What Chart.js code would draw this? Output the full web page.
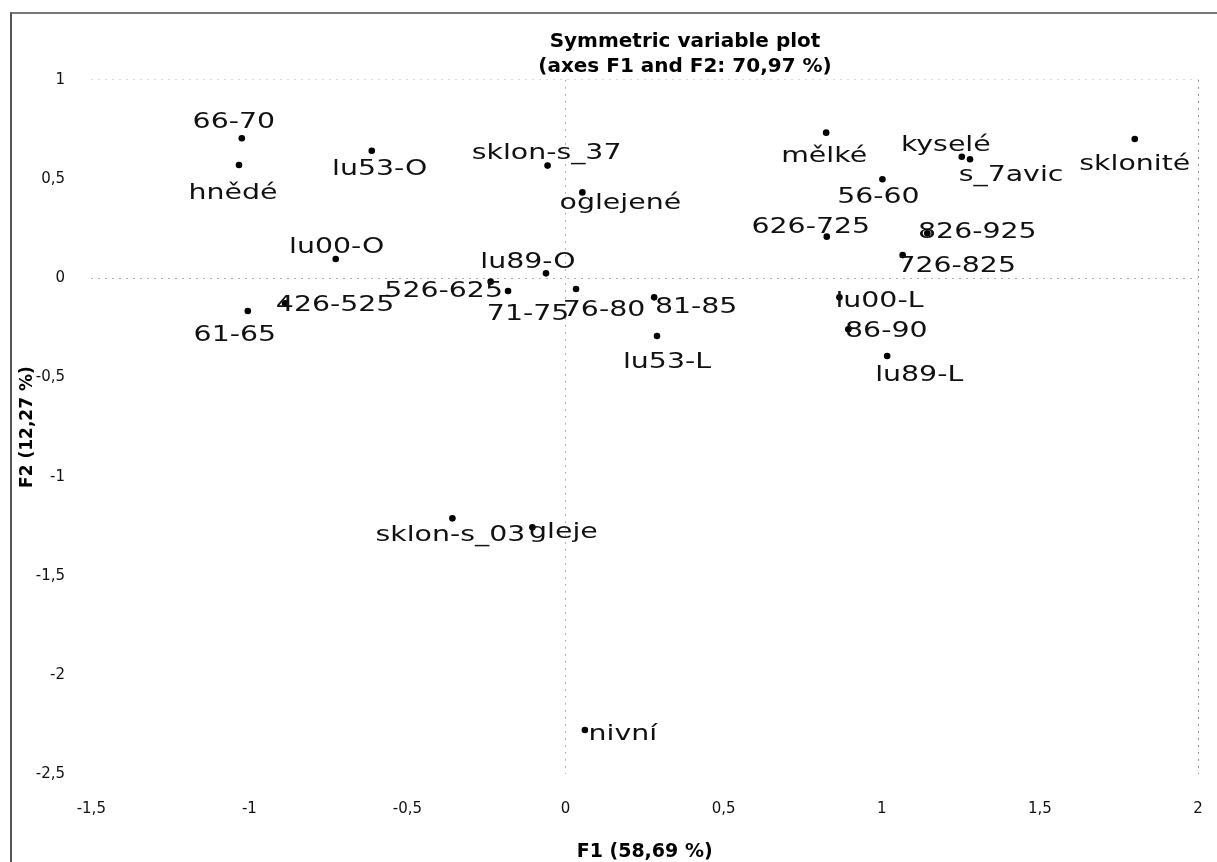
<!DOCTYPE html>
<html>
<head>
<meta charset="utf-8">
<script src="https://cdn.jsdelivr.net/npm/chart.js@4.4.1/dist/chart.umd.min.js"></script>
<style>
  html, body { margin: 0; padding: 0; background: #fff; overflow: hidden; width: 1217px; height: 862px; }
  #frame { position: absolute; left: 10px; top: 12px; width: 1400px; height: 1000px;
           border-left: 2px solid #555; border-top: 2px solid #777; }
  #wrap { position: absolute; left: 0; top: 0; width: 1370px; height: 862px; }
</style>
</head>
<body>
<div id="frame"></div>
<div id="wrap"><canvas id="plot"></canvas></div>
<script>
// Variables and their coordinates on the first two factors
const variables = [
  '66-70', 'hnědé', 'lu53-O', 'lu00-O', '426-525', '61-65', '526-625', '71-75',
  'lu89-O', 'sklon-s_37', 'oglejené', '76-80', '81-85', 'lu53-L', 'mělké', 'kyselé',
  's_7avic', 'sklonité', '56-60', '626-725', '826-925', '726-825', 'lu00-L', '86-90',
  'lu89-L', 'sklon-s_03', 'gleje', 'nivní'
];
const f1 = [
  -1.024, -1.033, -0.613, -0.727, -0.887, -1.005, -0.237, -0.182,
  -0.062, -0.057, 0.053, 0.033, 0.280, 0.289, 0.824, 1.253,
  1.279, 1.800, 1.002, 0.826, 1.144, 1.066, 0.866, 0.894,
  1.017, -0.358, -0.105, 0.061
];
const f2 = [
  0.706, 0.571, 0.643, 0.097, -0.126, -0.165, -0.017, -0.064,
  0.025, 0.568, 0.433, -0.054, -0.096, -0.291, 0.734, 0.613,
  0.600, 0.702, 0.499, 0.210, 0.227, 0.117, -0.096, -0.257,
  -0.392, -1.210, -1.255, -2.277
];
const xTicks = [-1.5, -1, -0.5, 0, 0.5, 1, 1.5, 2];
const yTicks = [-2.5, -2, -1.5, -1, -0.5, 0, 0.5, 1];

// Where each name sits relative to its point (px)
const labelDx = [
  -8, -6, 8, 1, 50, -13, -47, 20,
  -18, -1, 38, 28, 42, 10, -2, -16,
  41, 0, -4, -16, 50, 54, 40, 38,
  32, -2, 31, 38
];
const labelDy = [
  -16, 28, 19, -12, 2, 24, 10, 23,
  -11, -12, 11, 21, 10, 26, 24, -11,
  16, 25, 18, -9, -1, 11, 4, 2,
  19, 17, 5, 4
];

const points = f1.map((x, i) => ({ x: x, y: f2[i] }));
const decimalComma = v => String(v).replace('.', ',');

// Names drawn next to the points, slightly widened
const pointLabels = {
  id: 'pointLabels',
  afterDatasetsDraw(chart) {
    const ctx = chart.ctx;
    const meta = chart.getDatasetMeta(0);
    ctx.save();
    ctx.font = '22px "DejaVu Sans"';
    ctx.fillStyle = '#111';
    ctx.textAlign = 'center';
    ctx.textBaseline = 'middle';
    meta.data.forEach((pt, i) => {
      ctx.save();
      ctx.translate(pt.x + labelDx[i], pt.y + labelDy[i]);
      ctx.scale(1.29, 1);
      ctx.fillText(variables[i], 0, 0);
      ctx.restore();
    });
    ctx.restore();
  }
};

Chart.defaults.font.family = '"DejaVu Sans"';

new Chart(document.getElementById('plot'), {
  type: 'scatter',
  data: {
    datasets: [{
      data: points,
      backgroundColor: '#000',
      borderWidth: 0,
      pointRadius: 3.3,
      pointHoverRadius: 3.3
    }]
  },
  options: {
    responsive: true,
    maintainAspectRatio: false,
    animation: false,
    events: [],
    layout: { padding: 0 },
    plugins: {
      legend: { display: false },
      tooltip: { enabled: false },
      title: {
        display: true,
        text: ['Symmetric variable plot', '(axes F1 and F2: 70,97 %)'],
        color: '#000',
        font: { size: 20, weight: 'bold', lineHeight: 1.25 },
        padding: { top: 29.5, bottom: 0.4 }
      }
    },
    scales: {
      x: {
        type: 'linear',
        min: -1.5,
        max: 2,
        afterBuildTicks: s => { s.ticks = xTicks.map(v => ({ value: v })); },
        afterFit: s => { s.height = 87.7; },
        ticks: {
          callback: decimalComma,
          color: '#111',
          font: { size: 15 },
          padding: 25.7,
          maxRotation: 0,
          autoSkip: false
        },
        grid: {
          drawTicks: false,
          lineWidth: 1,
          color: c => {
            if (!c.tick) return 'transparent';
            if (c.tick.value === 0) return 'rgba(0,0,0,0.3)';
            if (c.tick.value === 2) return 'rgba(0,0,0,0.45)';
            return 'transparent';
          }
        },
        border: { display: false, dash: [2, 5] },
        title: {
          display: true,
          text: 'F1 (58,69 %)',
          color: '#000',
          font: { size: 19, weight: 'bold', lineHeight: 1 },
          padding: { top: 0, bottom: 0.5 }
        }
      },
      y: {
        type: 'linear',
        min: -2.5,
        max: 1,
        afterBuildTicks: s => { s.ticks = yTicks.map(v => ({ value: v })); },
        afterFit: s => { s.width = 91.3; },
        ticks: {
          callback: decimalComma,
          color: '#111',
          font: { size: 15 },
          padding: 26.3,
          autoSkip: false
        },
        grid: {
          drawTicks: false,
          lineWidth: 1,
          color: c => {
            if (!c.tick) return 'transparent';
            if (c.tick.value === 0) return 'rgba(0,0,0,0.3)';
            if (c.tick.value === 1) return 'rgba(0,0,0,0.15)';
            return 'transparent';
          }
        },
        border: { display: false, dash: [2, 5] },
        title: {
          display: true,
          text: 'F2 (12,27 %)',
          color: '#000',
          font: { size: 17, weight: 'bold', lineHeight: 1 },
          padding: { top: 19.5, bottom: 0 }
        }
      },
      // empty right-hand margin of the plot frame
      margin: {
        type: 'linear',
        position: 'right',
        min: -2.5,
        max: 1,
        afterFit: s => { s.width = 172; },
        ticks: { display: false },
        grid: { display: false, drawOnChartArea: false },
        border: { display: false }
      }
    }
  },
  plugins: [pointLabels]
});
</script>
</body>
</html>
